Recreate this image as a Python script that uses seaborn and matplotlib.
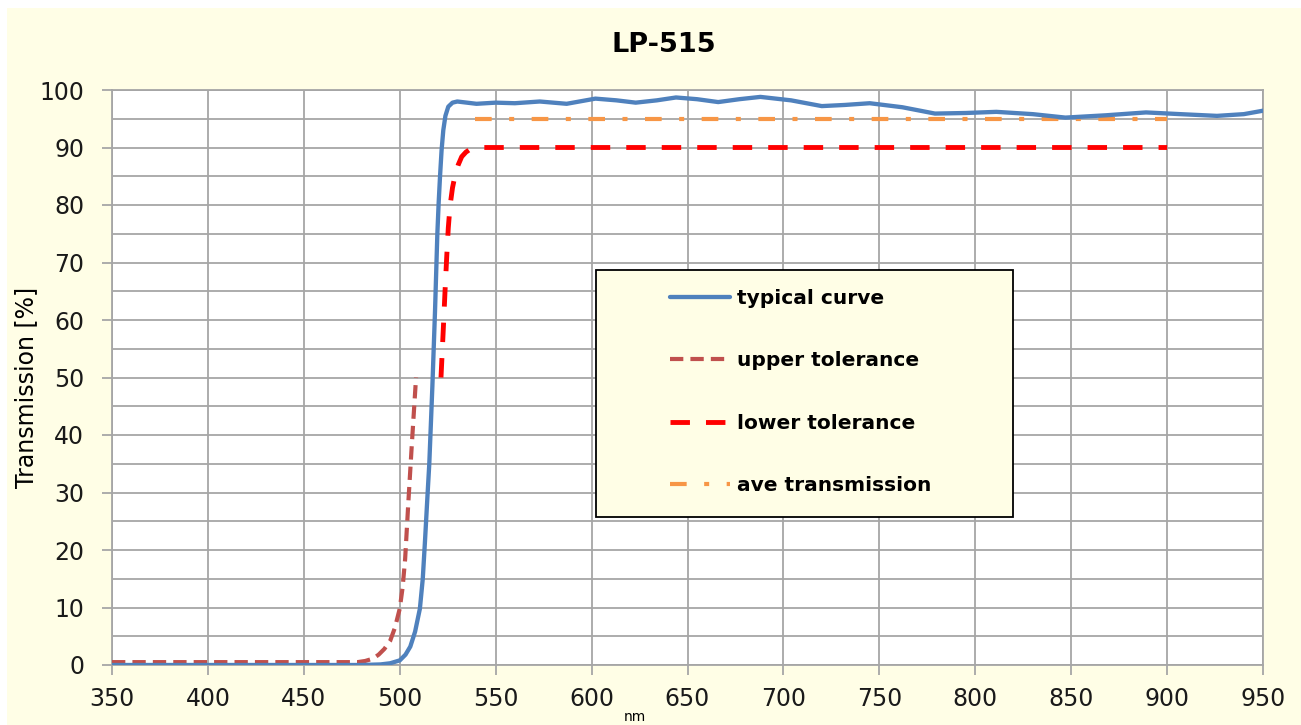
import numpy as np
import pandas as pd
import seaborn as sns
import matplotlib
matplotlib.use("Agg")
import matplotlib.pyplot as plt
from matplotlib.patches import Rectangle

# typical curve (wavelength nm, transmission %)
typ_nm = [350, 480, 490, 495, 500, 503, 505.5, 508, 510.5, 512, 513.2, 514.3, 515.4, 517, 518.4,
          519.6, 520.3, 521, 521.8, 522.7, 523.8, 525.3, 527.5, 530, 535, 540, 550, 560, 573, 587,
          602, 613, 623, 634, 644, 655, 666, 677, 688, 704, 720, 732, 745, 762, 779, 795, 811, 830,
          847, 868, 889, 907, 926, 940, 950]
typ_val = [0, 0, 0.1, 0.3, 0.8, 1.8, 3.2, 5.8, 9.8, 15, 21.8, 28.5, 35, 48.4, 61.7,
           75, 80.5, 85, 89.5, 93, 95.5, 97.1, 97.8, 98.0, 97.8, 97.6, 97.8, 97.7, 98.0, 97.6,
           98.5, 98.2, 97.8, 98.2, 98.7, 98.4, 97.9, 98.4, 98.8, 98.2, 97.2, 97.4, 97.7, 97.0, 95.9,
           96.0, 96.2, 95.8, 95.2, 95.6, 96.1, 95.8, 95.5, 95.8, 96.4]

# upper tolerance
upper_nm = [350, 478, 482, 486, 489, 492, 495, 497.5, 500, 501.5, 502.8, 504.5, 506.3, 508.5]
upper_val = [0.5, 0.5, 0.7, 1.1, 1.8, 2.8, 4.2, 6.5, 9.8, 13.5, 18.4, 28.4, 38.4, 50]

# lower tolerance
lower_nm = [521.5, 522.7, 523.6, 524.5, 525.3, 526.2, 527.5, 528.8, 530.5, 532.3, 534.5, 536.7, 540, 900]
lower_val = [50, 58.4, 65, 71.1, 76, 79.8, 83, 85.1, 87, 88.4, 89.2, 89.7, 90, 90]

# average transmission
ave_nm = [539, 900]
ave_val = [95, 95]

x_ticks = list(range(350, 951, 50))
y_ticks = list(range(0, 101, 10))

bg = "#FFFEE6"
grid_c = "#A6A6A6"

sns.set_theme(style="white")
plt.rcParams["font.family"] = ["DejaVu Sans"]
plt.rcParams["text.color"] = "black"
plt.rcParams["axes.labelcolor"] = "black"

fig = plt.figure(figsize=(13.01, 7.25), dpi=100, facecolor="white")
fig.patches.append(Rectangle((7 / 1301, 0), 1 - 7 / 1301, 1 - 8 / 725, transform=fig.transFigure,
                             facecolor=bg, edgecolor="none", zorder=-10))
ax = fig.add_axes([112 / 1301, 60 / 725, 1151 / 1301, 575 / 725])
ax.set_facecolor("white")

sns.lineplot(x=typ_nm, y=typ_val, ax=ax, color="#4F81BD", linewidth=3.1,
             label="typical curve", zorder=4)
sns.lineplot(x=upper_nm, y=upper_val, ax=ax, color="#C0504D", linewidth=3.0,
             linestyle=(0, (3.2, 1.7)), label="upper tolerance", zorder=3)
sns.lineplot(x=lower_nm, y=lower_val, ax=ax, color="#FF0000", linewidth=3.5,
             linestyle=(0, (4.0, 3.3)), label="lower tolerance", zorder=3)
sns.lineplot(x=ave_nm, y=ave_val, ax=ax, color="#F79646", linewidth=3.0,
             linestyle=(0, (4.0, 4.2, 1.2, 4.2)), label="ave transmission", zorder=3)

ax.set_xlim(350, 950)
ax.set_ylim(0, 100)
ax.set_xticks(x_ticks)
ax.set_yticks(y_ticks)
ax.set_yticks(list(range(5, 100, 10)), minor=True)
ax.grid(True, which="major", axis="both", color=grid_c, linewidth=1.3)
ax.grid(True, which="minor", axis="y", color=grid_c, linewidth=1.3)
ax.set_axisbelow(True)
for s in ax.spines.values():
    s.set_color(grid_c)
    s.set_linewidth(1.3)

ax.tick_params(axis="both", which="major", direction="out", length=7, width=1.3,
               color=grid_c, labelsize=17, labelcolor="#1a1a1a")
ax.tick_params(axis="x", pad=9)
ax.tick_params(axis="y", pad=13)
ax.tick_params(axis="y", which="minor", length=0)
ax.tick_params(bottom=True, left=True)

ax.set_xlabel("nm", fontsize=10)
ax.xaxis.set_label_coords((635 - 112) / 1151, (665 - 710) / 575)
ax.set_ylabel("Transmission [%]", fontsize=17)
ax.yaxis.set_label_coords((38 - 112) / 1151, (665 - 387) / 575)

fig.text(664 / 1301, 1 - 45 / 725, "LP-515", ha="center", va="center",
         fontsize=19.5, fontweight="bold")

# legend box
ax.add_patch(Rectangle(((596 - 112) / 1151, (665 - 517) / 575), 417 / 1151, 247 / 575,
                       transform=ax.transAxes, facecolor=bg, edgecolor="black",
                       linewidth=1.3, zorder=5))
leg = ax.legend(loc="upper left", bbox_to_anchor=((670 - 112) / 1151, (665 - 289) / 575),
                frameon=False, handlelength=3.0, handletextpad=0.35, labelspacing=2.15,
                borderpad=0, borderaxespad=0,
                prop={"weight": "bold", "size": 14.5})
for t in leg.get_texts():
    t.set_color("black")
leg.set_zorder(6)

fig.savefig("out.png", dpi=100, facecolor="white")
